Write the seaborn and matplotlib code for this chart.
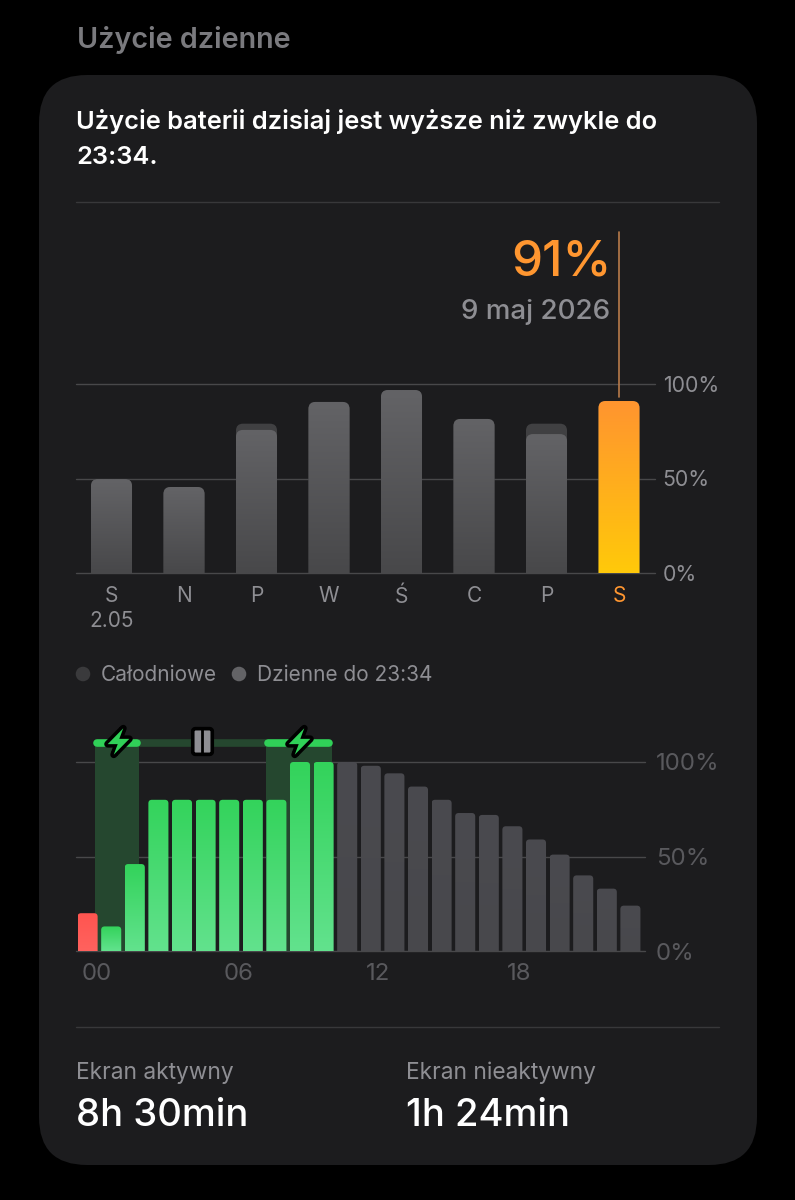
import numpy as np
import matplotlib
matplotlib.use("Agg")
import matplotlib.pyplot as plt
from matplotlib.colors import LinearSegmentedColormap
from matplotlib.patches import FancyBboxPatch, PathPatch
from matplotlib.path import Path
from matplotlib.transforms import IdentityTransform
import seaborn as sns

# ---- data ----
day_labels = ["S\n2.05", "N", "P", "W", "Ś", "C", "P", "S"]
full_day = [49.7, 45.5, 79, 90.5, 96.8, 81.5, 79, 91]
until_now = [49.7, 45.5, 75.7, 90.5, 96.8, 81.5, 73.5, 91]
hour_values = [20, 13, 46, 80, 80, 80, 80, 80, 80, 100, 100,
               100, 98, 94, 87, 80, 73, 72, 66, 59, 51, 40, 33, 24]
hour_kind = ["low"] + ["charge"] * 10 + ["rest"] * 13
hour_ticks = [0.38, 6.38, 12.32, 18.3]
hour_tick_labels = ["00", "06", "12", "18"]
charge_spans = [(0.31, 2.18), (7.56, 10.34)]
pause_span = (2.18, 7.56)
bolt_positions = [1.29, 8.95]
pause_position = 4.85
pct_ticks = [0, 50, 100]
pct_labels = ["0%", "50%", "100%"]

BG = "#000000"; CARD = "#1c1c1e"; GREY = "#8e8e93"; ORANGE = "#ff9630"
GREEN = "#30d158"; GRID = "#48484a"; DIM = "#59595d"; LINK = "#25472f"

sns.set_style("dark")
plt.rcParams["font.family"] = ["Inter", "DejaVu Sans"]
W, H = 795, 1200
fig = plt.figure(figsize=(W / 100, H / 100), dpi=100, facecolor=BG)


def axes_px(x0, x1, ytop, ybot, z):
    ax = fig.add_axes([x0 / W, 1 - ybot / H, (x1 - x0) / W, (ybot - ytop) / H], zorder=z)
    ax.patch.set_alpha(0)
    for s in ax.spines.values():
        s.set_visible(False)
    return ax


bg = axes_px(0, W, 0, H, 0)
bg.set_xlim(0, W); bg.set_ylim(H, 0); bg.axis("off")
bg.add_patch(FancyBboxPatch((39 + 48, 75 + 48), 718 - 96, 1090 - 96,
                            boxstyle="round,pad=48,rounding_size=48", fc=CARD, ec="none"))
for y in (202, 1027):
    bg.plot([76, 719], [y, y], color="#38383a", lw=1)


def T(x, y, s, size, color, weight="normal", ha="left"):
    bg.text(x, y, s, fontsize=size, color=color, fontweight=weight, ha=ha, va="center")


T(77, 40, "Użycie dzienne", 20.7, "#7a7a7e", "semibold")
T(76, 121, "Użycie baterii dzisiaj jest wyższe niż zwykle do", 18.35, "white", "semibold")
T(76, 157, "23:34.", 18.35, "white", "semibold")
T(612, 262, "91%", 35.5, ORANGE, "medium", "right")
T(610, 312, "9 maj 2026", 20, GREY, "medium", "right")
bg.scatter([83, 239], [674, 674], s=110, c=["#3a3a3c", "#636366"], linewidths=0)
T(101, 675, "Całodniowe", 15, GREY)
T(257, 675, "Dzienne do 23:34", 15, GREY)
T(76, 1073, "Ekran aktywny", 16.4, GREY)
T(406, 1073, "Ekran nieaktywny", 16.4, GREY)
T(76, 1116, "8h 30min", 27.5, "white", "medium")
T(406, 1116, "1h 24min", 27.5, "white", "medium")


def rounded(ax, x0, x1, h, r):
    (a, b), (c, d) = ax.transData.transform([(x0, 0), (x1, h)])
    r = min(r, (d - b))
    verts = [(a, b), (a, d - r), (a, d), (a + r, d), (c - r, d), (c, d), (c, d - r), (c, b), (a, b)]
    codes = [Path.MOVETO, Path.LINETO, Path.CURVE3, Path.CURVE3, Path.LINETO,
             Path.CURVE3, Path.CURVE3, Path.LINETO, Path.CLOSEPOLY]
    return Path(verts, codes)


def restyle(ax, bar, top, bottom, radius, z=3):
    """Turn a seaborn bar into a rounded bar with a vertical gradient."""
    x0, h, w = bar.get_x(), bar.get_height(), bar.get_width()
    bar.set_visible(False)
    clip = PathPatch(rounded(ax, x0, x0 + w, h, radius), transform=IdentityTransform(),
                     fc="none", ec="none")
    ax.add_artist(clip)
    cmap = LinearSegmentedColormap.from_list("g", [bottom, top])
    im = ax.imshow(np.linspace(0, 1, 64)[:, None], cmap=cmap, origin="lower", aspect="auto",
                   extent=(x0, x0 + w, 0, h), zorder=z, interpolation="bilinear")
    im.set_clip_path(clip)


def style_axis(ax, labels_color, pad, size):
    ax.set_ylim(0, 100)
    ax.set_yticks(pct_ticks, pct_labels)
    ax.yaxis.tick_right()
    ax.tick_params(axis="y", length=0, pad=pad, labelsize=size, labelcolor=labels_color)
    ax.tick_params(axis="x", length=0)
    ax.set_xlabel(""); ax.set_ylabel("")
    ax.grid(axis="y", color=GRID, lw=1)
    ax.grid(axis="x", visible=False)
    ax.set_axisbelow(True)
    for gl in ax.get_ygridlines():
        gl.set_clip_on(False)
    ax.set_autoscale_on(False)


# ---- weekly chart ----
ax1 = axes_px(76, 655, 384, 573, 2)
idx = np.arange(len(day_labels))
sns.barplot(x=idx, y=full_day, color="#3a3a3c", width=0.566, saturation=1, ax=ax1)
sns.barplot(x=idx, y=until_now, color="#555557", width=0.566, saturation=1, ax=ax1)
ax1.set_xlim(-35.5 / 72.5, (655 - 111.5) / 72.5)
style_axis(ax1, GREY, 5.5, 15.3)
ax1.set_xticks(idx, day_labels, fontsize=15, color=GREY, linespacing=1.3)
ax1.tick_params(axis="x", pad=9.5)
ax1.get_xticklabels()[-1].set_color(ORANGE)
bars = list(ax1.patches)
n = len(idx)
for b in bars[:n]:
    restyle(ax1, b, "#414143", "#3a3a3c", 7, z=2)
for i, b in enumerate(bars[n:]):
    if i == n - 1:
        restyle(ax1, b, "#ff952f", "#ffc90a", 7)
    else:
        restyle(ax1, b, "#636366", "#48484a", 7)
ax1.plot([idx[-1], idx[-1]], [93.1, 180.4], color="#b87a4a", lw=1.2, clip_on=False, zorder=4)

# ---- hourly chart ----
ax2 = axes_px(76, 645, 762, 951, 2)
hours = np.arange(len(hour_values))
sns.barplot(x=hours, y=hour_values, color=GREEN, width=0.85, saturation=1, ax=ax2)
ax2.set_xlim(-11.6 / 23.6, (645 - 87.6) / 23.6)
style_axis(ax2, DIM, 8, 17.3)
ax2.set_xticks(hour_ticks, hour_tick_labels, fontsize=17.3, color=DIM)
ax2.tick_params(axis="x", pad=9)
for b, kind in zip(list(ax2.patches), hour_kind):
    if kind == "low":
        restyle(ax2, b, "#ff5550", "#ff625e", 3.5)
    elif kind == "charge":
        restyle(ax2, b, "#33d35b", "#62e28d", 3.5)
    else:
        restyle(ax2, b, "#4a4a4f", "#48484c", 3.5)
rail = 110
for s, e in charge_spans:
    ax2.fill_between([s, e], 0, rail, color=LINK, lw=0, zorder=1, clip_on=False)
ax2.plot(pause_span, [rail, rail], color=LINK, lw=5.5, solid_capstyle="butt", clip_on=False, zorder=1)
for s, e in charge_spans:
    ax2.plot([s + .1, e - .1], [rail, rail], color=GREEN, lw=5.5, solid_capstyle="round",
             clip_on=False, zorder=5)
bolt = Path([(0.36, 1), (-0.82, -0.2), (-0.06, -0.2), (-0.36, -1), (0.82, 0.2), (0.06, 0.2), (0.36, 1)], closed=True)
ax2.plot(bolt_positions, [rail + 1] * 2, ls="none", marker=bolt, ms=19, mfc="black", mec="black",
         mew=5, clip_on=False, zorder=6)
ax2.plot(bolt_positions, [rail + 1] * 2, ls="none", marker=bolt, ms=19, mfc=GREEN, mec="none",
         clip_on=False, zorder=6.5)
k = 0.38
pill = Path([(-k + .1, -.5), (k - .1, -.5), (k, -.5), (k, -.4), (k, .4), (k, .5), (k - .1, .5),
             (-k + .1, .5), (-k, .5), (-k, .4), (-k, -.4), (-k, -.5), (-k + .1, -.5), (-k + .1, -.5)],
            [Path.MOVETO, Path.LINETO, Path.CURVE3, Path.CURVE3, Path.LINETO, Path.CURVE3, Path.CURVE3,
             Path.LINETO, Path.CURVE3, Path.CURVE3, Path.LINETO, Path.CURVE3, Path.CURVE3, Path.CLOSEPOLY])
ax2.plot([pause_position], [rail + 1], ls="none", marker=pill, ms=18.5, mfc=GREY, mec="black", mew=2.6,
         clip_on=False, zorder=6)
ax2.plot([pause_position], [rail + 1], ls="none", marker="|", ms=17, mec="black", mew=2,
         clip_on=False, zorder=7)

fig.savefig("out.png", dpi=100, facecolor=BG)
